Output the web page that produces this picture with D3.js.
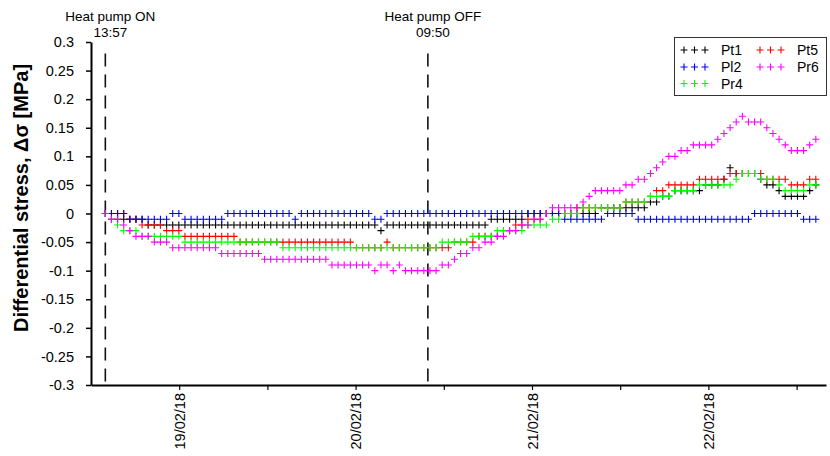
<!DOCTYPE html>
<html><head><meta charset="utf-8">
<script src="https://cdn.jsdelivr.net/npm/d3@7"></script>
<style>
body{margin:0;background:#fff;}
text{font-family:Arial,"Liberation Sans",sans-serif;fill:#000;}
</style>
</head><body>
<svg id="chart" width="830" height="456"></svg>
<script>
// ---------- data ----------
const seriesNames  = ["Pt1", "Pl2", "Pr4", "Pt5", "Pr6"];
const seriesColors = ["#000000", "#0000ff", "#00ff00", "#ff0000", "#ff00ff"];
const drawOrder    = ["Pt1", "Pt5", "Pl2", "Pr4", "Pr6"];

// sampling: first reading at heat pump ON, one reading every 50 minutes
const startTime   = "2018-02-18T13:57";
const stepMinutes = 50;

const pt1 = [
 0,-0.01,-0.01,-0.01,-0.01,-0.01,-0.01,-0.02,-0.02,-0.02,
 -0.02,-0.02,-0.02,-0.02,-0.02,-0.02,-0.02,-0.02,-0.02,-0.02,
 -0.02,-0.02,-0.02,-0.02,-0.02,-0.02,-0.02,-0.02,-0.02,-0.02,
 -0.02,-0.02,-0.02,-0.02,-0.02,-0.02,-0.02,-0.02,-0.02,-0.02,
 -0.02,-0.02,-0.02,-0.02,-0.02,-0.03,-0.02,-0.02,-0.02,-0.02,
 -0.02,-0.02,-0.02,-0.02,-0.02,-0.02,-0.02,-0.02,-0.02,-0.02,
 -0.02,-0.02,-0.02,-0.01,-0.01,-0.01,-0.01,-0.01,-0.01,0,
 0,0,0,0,0,0,0,0,0,0,
 0,0.01,0.01,0.01,0.01,0.01,0.01,0.01,0.01,0.02,
 0.02,0.03,0.03,0.04,0.04,0.04,0.04,0.04,0.05,0.05,
 0.05,0.06,0.08,0.07,0.07,0.07,0.07,0.06,0.05,0.05,
 0.04,0.03,0.03,0.03,0.03,0.04,0.05
];
const pl2 = [
 0,0,0,0,-0.01,-0.01,-0.01,-0.01,-0.01,-0.01,
 -0.01,0,0,-0.01,-0.01,-0.01,-0.01,-0.01,-0.01,-0.01,
 0,0,0,0,0,0,0,0,0,0,
 0,-0.01,0,0,0,0,0,0,0,0,
 0,0,0,0,-0.01,-0.01,0,0,0,0,
 0,0,0,0,0,0,0,0,0,0,
 0,0,0,0,0,0,0,0,0,0,
 0,0,0,0,0,-0.01,-0.01,-0.01,-0.01,-0.01,
 -0.01,-0.01,0,0,0,0,0,-0.01,-0.01,-0.01,
 -0.01,-0.01,-0.01,-0.01,-0.01,-0.01,-0.01,-0.01,-0.01,-0.01,
 -0.01,-0.01,-0.01,-0.01,-0.01,-0.01,0,0,0,0,
 0,0,0,0,-0.01,-0.01,-0.01
];
const pr4 = [
 0,-0.01,-0.02,-0.03,-0.03,-0.03,-0.04,-0.04,-0.04,-0.04,
 -0.04,-0.04,-0.04,-0.05,-0.05,-0.05,-0.05,-0.05,-0.05,-0.05,
 -0.05,-0.05,-0.05,-0.05,-0.05,-0.05,-0.05,-0.05,-0.05,-0.06,
 -0.06,-0.06,-0.06,-0.06,-0.06,-0.06,-0.06,-0.06,-0.06,-0.06,
 -0.06,-0.06,-0.06,-0.06,-0.06,-0.06,-0.06,-0.06,-0.06,-0.06,
 -0.06,-0.06,-0.06,-0.06,-0.06,-0.05,-0.05,-0.05,-0.05,-0.05,
 -0.04,-0.04,-0.04,-0.04,-0.03,-0.03,-0.03,-0.03,-0.03,-0.02,
 -0.02,-0.02,-0.02,-0.01,-0.01,0,0,0,0.01,0.01,
 0.01,0.01,0.01,0.01,0.01,0.02,0.02,0.02,0.02,0.03,
 0.03,0.03,0.03,0.04,0.04,0.04,0.04,0.05,0.05,0.05,
 0.05,0.05,0.05,0.06,0.07,0.07,0.07,0.06,0.06,0.06,
 0.05,0.04,0.04,0.04,0.04,0.05,0.05
];
const pt5 = [
 0,0,0,0,-0.01,-0.01,-0.02,-0.02,-0.02,-0.02,
 -0.03,-0.03,-0.03,-0.04,-0.04,-0.04,-0.04,-0.04,-0.04,-0.04,
 -0.04,-0.04,-0.05,-0.05,-0.05,-0.05,-0.05,-0.05,-0.05,-0.05,
 -0.05,-0.05,-0.05,-0.05,-0.05,-0.05,-0.05,-0.05,-0.05,-0.05,
 -0.05,-0.06,-0.06,-0.06,-0.06,-0.06,-0.05,-0.06,-0.06,-0.06,
 -0.06,-0.06,-0.06,-0.06,-0.06,-0.06,-0.06,-0.05,-0.05,-0.05,
 -0.05,-0.04,-0.04,-0.04,-0.04,-0.03,-0.03,-0.02,-0.02,-0.01,
 -0.01,-0.01,0,0,0,0,0,0.01,0.01,0.01,
 0.01,0.01,0.01,0.01,0.01,0.02,0.02,0.02,0.02,0.03,
 0.04,0.04,0.05,0.05,0.05,0.05,0.05,0.06,0.06,0.06,
 0.06,0.06,0.07,0.07,0.07,0.07,0.07,0.07,0.06,0.06,
 0.06,0.06,0.05,0.05,0.05,0.06,0.06
];
const pr6 = [
 0,-0.01,-0.01,-0.02,-0.03,-0.04,-0.04,-0.04,-0.05,-0.05,
 -0.05,-0.06,-0.06,-0.06,-0.06,-0.06,-0.06,-0.06,-0.06,-0.07,
 -0.07,-0.07,-0.07,-0.07,-0.07,-0.07,-0.08,-0.08,-0.08,-0.08,
 -0.08,-0.08,-0.08,-0.08,-0.08,-0.08,-0.08,-0.09,-0.09,-0.09,
 -0.09,-0.09,-0.09,-0.09,-0.10,-0.09,-0.09,-0.10,-0.09,-0.10,
 -0.10,-0.10,-0.10,-0.10,-0.10,-0.09,-0.09,-0.08,-0.07,-0.07,
 -0.06,-0.06,-0.05,-0.05,-0.04,-0.04,-0.03,-0.03,-0.02,-0.02,
 -0.01,-0.01,0,0.01,0.01,0.01,0.01,0.01,0.02,0.03,
 0.04,0.04,0.04,0.04,0.04,0.05,0.05,0.06,0.06,0.07,
 0.08,0.09,0.10,0.10,0.11,0.11,0.12,0.12,0.12,0.12,
 0.13,0.14,0.15,0.16,0.17,0.16,0.16,0.16,0.15,0.14,
 0.13,0.12,0.11,0.11,0.11,0.12,0.13
];
const seriesValues = {Pt1: pt1, Pl2: pl2, Pr4: pr4, Pt5: pt5, Pr6: pr6};

const yTickValues = [0.3,0.25,0.2,0.15,0.1,0.05,0,-0.05,-0.1,-0.15,-0.2,-0.25,-0.3];
const xTickDates  = ["2018-02-19T00:00","2018-02-19T12:00","2018-02-20T00:00","2018-02-20T12:00",
                     "2018-02-21T00:00","2018-02-21T12:00","2018-02-22T00:00","2018-02-22T12:00"];
const xDomainDates = ["2018-02-18T12:00","2018-02-22T16:00"];
const eventNames = ["Heat pump ON", "Heat pump OFF"];
const eventClock = ["13:57", "09:50"];
const eventDates = ["2018-02-18T13:57", "2018-02-20T09:50"];
const yTitle = "Differential stress, \u0394\u03c3 [MPa]";

// ---------- chart ----------
const parse = d3.timeParse("%Y-%m-%dT%H:%M");
const svg = d3.select("#chart");

const x = d3.scaleTime().domain(xDomainDates.map(parse)).range([91, 826]);
const y = d3.scaleLinear().domain([-0.3, 0.3]).range([385, 42]);

const t0 = parse(startTime);
const n = pt1.length;
const times = d3.range(n).map(i => d3.timeMinute.offset(t0, i * stepMinutes));

// y axis
const yAxis = svg.append("g").attr("transform", "translate(91,0)")
  .call(d3.axisLeft(y).tickValues(yTickValues).tickSizeInner(5).tickSizeOuter(0).tickPadding(12)
        .tickFormat(d => String(+d.toFixed(2))));
yAxis.select(".domain").attr("stroke", "#000").attr("stroke-width", 2);
yAxis.selectAll(".tick line").attr("stroke", "#000").attr("stroke-width", 1.5);
yAxis.selectAll(".tick text").attr("font-size", "14.5px").attr("font-family", "Arial, 'Liberation Sans', sans-serif");

// x axis
const xAxis = svg.append("g").attr("transform", "translate(0,385)")
  .call(d3.axisBottom(x).tickValues(xTickDates.map(parse)).tickSizeInner(5).tickSizeOuter(0)
        .tickFormat(d => d.getHours() === 0 ? d3.timeFormat("%d/%m/%y")(d) : ""));
xAxis.select(".domain").attr("stroke", "#000").attr("stroke-width", 2);
xAxis.selectAll(".tick line").attr("stroke", "#000").attr("stroke-width", 1.2);
xAxis.selectAll(".tick text")
  .attr("font-size", "14.5px").attr("font-family", "Arial, 'Liberation Sans', sans-serif")
  .attr("text-anchor", "end")
  .attr("transform", "rotate(-90)")
  .attr("x", -8).attr("y", 0).attr("dy", "0.35em");

// y title
svg.append("text")
  .attr("transform", "translate(28,198) rotate(-90)")
  .attr("text-anchor", "middle")
  .attr("font-size", "20px").attr("font-weight", "bold")
  .text(yTitle);

// event lines + labels
eventDates.forEach((d, i) => {
  const ex = x(parse(d));
  svg.append("line")
    .attr("x1", ex).attr("x2", ex).attr("y1", y(0.28)).attr("y2", y(-0.3))
    .attr("stroke", "#111").attr("stroke-width", 1.6).attr("stroke-dasharray", "13,8");
  svg.append("text").attr("x", ex + 5).attr("y", 21).attr("text-anchor", "middle")
    .attr("font-size", "13.5px").text(eventNames[i]);
  svg.append("text").attr("x", ex + 5).attr("y", 37).attr("text-anchor", "middle")
    .attr("font-size", "13.5px").text(eventClock[i]);
});

// markers
const plus = "M-3.5,0H3.5M0,-3.5V3.5";
drawOrder.forEach(name => {
  const color = seriesColors[seriesNames.indexOf(name)];
  svg.append("g").selectAll("path")
    .data(seriesValues[name].map((v, i) => ({t: times[i], v})))
    .join("path")
    .attr("d", plus)
    .attr("transform", d => `translate(${x(d.t)},${y(d.v)})`)
    .attr("stroke", color).attr("stroke-width", 1.1).attr("fill", "none");
});

// legend
const lg = svg.append("g");
lg.append("rect").attr("x", 674.5).attr("y", 37.5).attr("width", 152).attr("height", 58)
  .attr("fill", "#fff").attr("stroke", "#333").attr("stroke-width", 1);
const legendPos = [
  {sx: 684, tx: 721, y: 50}, {sx: 684, tx: 721, y: 67}, {sx: 684, tx: 721, y: 83.5},
  {sx: 760, tx: 797, y: 50}, {sx: 760, tx: 797, y: 67}
];
seriesNames.forEach((name, i) => {
  const p = legendPos[i];
  [0, 10.5, 21].forEach(dx => {
    lg.append("path").attr("d", plus).attr("transform", `translate(${p.sx + dx},${p.y})`)
      .attr("stroke", seriesColors[i]).attr("stroke-width", 1.1).attr("fill", "none");
  });
  lg.append("text").attr("x", p.tx).attr("y", p.y + 5).attr("font-size", "14px").text(name);
});
</script>
</body></html>
